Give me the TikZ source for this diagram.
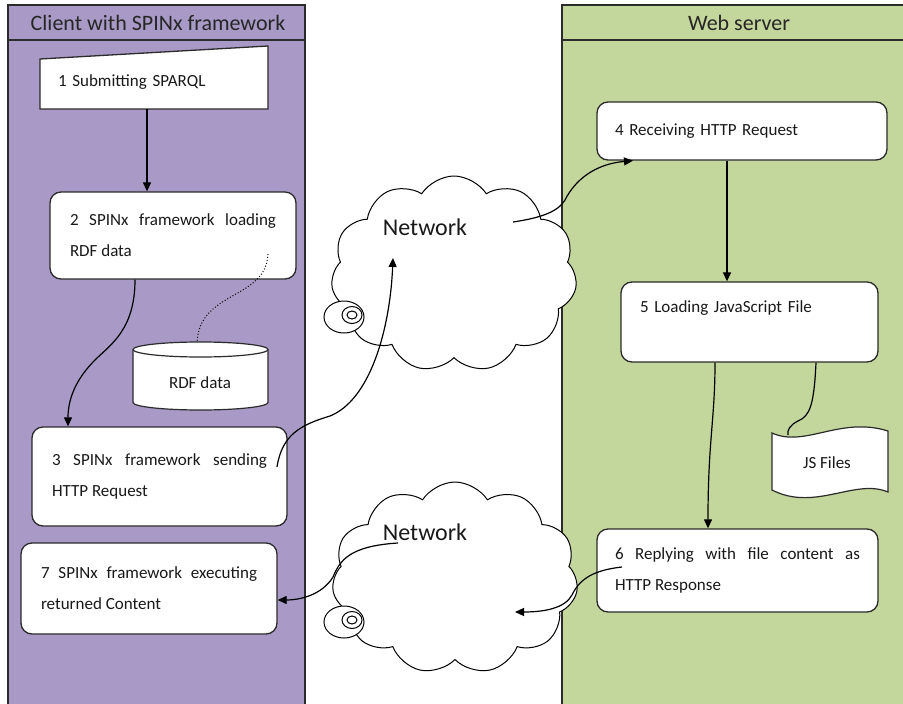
\documentclass[tikz,border=0pt]{standalone}
\usepackage{fontspec}
\setmainfont{Carlito}
\usetikzlibrary{arrows.meta,shapes.symbols,calc}
\definecolor{lav}{HTML}{A999C6}
\definecolor{olive}{HTML}{C3D69B}
\definecolor{edge}{HTML}{2B2B2B}
\begin{document}
\begin{tikzpicture}[x=1pt,y=-1pt,
  box/.style={draw=edge, line width=1.3pt, fill=white, rounded corners=11pt, inner sep=0pt},
  txt/.style={font=\fontsize{17}{31}\selectfont, text=black!90, inner sep=0pt},
  hdr/.style={font=\fontsize{22}{26}\selectfont, text=black!85, inner sep=0pt},
  net/.style={font=\fontsize{24}{28}\selectfont, text=black!90, inner sep=0pt},
  arr/.style={draw=black, line width=1.2pt, -{Triangle[length=9pt,width=8pt]}},
  lane/.style={draw=edge, line width=1.3pt},
  cl/.style={cloud, cloud puffs=11, cloud puff arc=115, aspect=1.3, draw=black, line width=1pt, fill=white, inner sep=0pt},
  tail/.style={draw=black, line width=1pt, fill=white},
  ]
\useasboundingbox (0,0) rectangle (903,704);
\fill[white] (0,0) rectangle (903,704);
% lanes
\fill[lav] (8,5) rectangle (305,704);
\draw[lane] (8,704) -- (8,5) -- (305,5) -- (305,704);
\draw[lane] (8,40) -- (305,40);
\fill[olive] (562,5) rectangle (903,704);
\draw[lane] (562,704) -- (562,5) -- (903,5);
\draw[lane] (562,40) -- (903,40);
\node[hdr] (hc) at (158,23) {Client with SPINx framework};
\node[hdr] (hw) at (739,23) {Web server};
% box 1 (manual input)
\filldraw[fill=white, draw=edge, line width=1.3pt] (40,109) -- (40,59) -- (268,46) -- (268,109) -- cycle;
\node[txt, text width=192pt, align=left, minimum height=54pt] (b1) at (154,82) {1 Submitting SPARQL};
% boxes
\node[box, txt, minimum width=246pt, minimum height=87pt, align=left] (b2) at (173,235.5)
  {\makebox[206pt][s]{2 SPINx framework loading}\\RDF data};
\node[box, txt, minimum width=255pt, minimum height=99pt, align=left] (b3) at (159.5,476.5)
  {\makebox[215pt][s]{3 SPINx framework sending}\\HTTP Request};
\node[box, txt, minimum width=256pt, minimum height=91pt, align=left] (b7) at (149,588.5)
  {\makebox[216pt][s]{7 SPINx framework executing}\\returned Content};
\node[box, txt, minimum width=290pt, minimum height=58pt, text width=254pt, align=left] (b4) at (742,131)
  {4 Receiving HTTP Request};
\node[box, txt, minimum width=257pt, minimum height=80pt, text width=219pt, align=left] (b5) at (749.5,322)
  {5 Loading JavaScript File\\\mbox{}};
\node[box, txt, minimum width=281pt, minimum height=83pt, align=left] (b6) at (737.5,570.5)
  {\makebox[245pt][s]{6 Replying with file content as}\\HTTP Response};
% RDF data cylinder
\filldraw[fill=white, draw=edge, line width=1.2pt]
  (133,349.5) -- (133,402.5) arc[start angle=180, end angle=0, x radius=67.5, y radius=7.5]
  -- (268,349.5) arc[start angle=0, end angle=-180, x radius=67.5, y radius=7.5] -- cycle;
\draw[edge, line width=1.2pt] (133,349.5) arc[start angle=180, end angle=0, x radius=67.5, y radius=7.5];
\node[txt] (rdf) at (200,383) {RDF data};
\coordinate (rdftop) at (197,342);
% JS files tape
\filldraw[fill=white, draw=edge, line width=1.2pt]
  (772,433) .. controls (805,448) and (840,416) .. (888,431) -- (888,492)
  .. controls (855,478) and (815,512) .. (772,490) -- cycle;
\node[txt] (js) at (827,463) {JS Files};
\coordinate (jstop) at (788,435);
% clouds
\node[cl, minimum width=246pt, minimum height=196pt] (c1) at (454,274) {};
\node[net] (n1) at (425,227) {Network};
\filldraw[tail] (344,317) ellipse [x radius=20, y radius=16];
\draw[black, line width=1pt] (352,315) ellipse [x radius=10, y radius=8.5];
\draw[black, line width=1pt] (352,315) ellipse [x radius=5, y radius=4];
\node[cl, minimum width=246pt, minimum height=192pt] (c2) at (455,578) {};
\node[net] (n2) at (425,532) {Network};
\filldraw[tail] (344,622) ellipse [x radius=20, y radius=16];
\draw[black, line width=1pt] (352,620) ellipse [x radius=10, y radius=8.5];
\draw[black, line width=1pt] (352,620) ellipse [x radius=5, y radius=4];
% connector end points
\coordinate (b2dot) at (268,254);
\coordinate (b3out) at (277,467);
\coordinate (c1in) at (393,258);
\coordinate (c1out) at (513,222);
\coordinate (b6out) at (622,567);
\coordinate (c2in) at (515,612);
\coordinate (c2out) at (398,543);
% connectors
\draw[arr] (147,0 |- b1.south) -- (147,0 |- b2.north);
\draw[black, line width=1pt, dotted] (b2dot) .. controls (266,300) and (200,290) .. (rdftop);
\draw[arr] (135,0 |- b2.south) .. controls (135,330) and (110,345) .. (95,360)
  .. controls (75,380) and (68,400) .. (68,0 |- b3.north);
\draw[arr] (b3out) .. controls (282,435) and (300,425) .. (330,416)
  .. controls (370,400) and (390,330) .. (c1in);
\draw[arr] (c1out) .. controls (540,218) and (558,212) .. (565,200)
  .. controls (575,180) and (595,164) .. (633,0 |- b4.south);
\draw[arr] (727,0 |- b4.south) -- (727,0 |- b5.north);
\draw[arr] (715,0 |- b5.south) .. controls (715,420) and (708,440) .. (708,0 |- b6.north);
\draw[black, line width=1.2pt] (816,0 |- b5.south) .. controls (814,405) and (810,416) .. (798,421)
  .. controls (790,425) and (787,430) .. (jstop);
\draw[arr] (b6out) .. controls (595,570) and (580,578) .. (572,595)
  .. controls (565,608) and (545,612) .. (c2in);
\draw[arr] (c2out) .. controls (350,546) and (340,560) .. (333,577)
  .. controls (322,595) and (300,600) .. (b7.east |- 0,600);
\end{tikzpicture}
\end{document}
